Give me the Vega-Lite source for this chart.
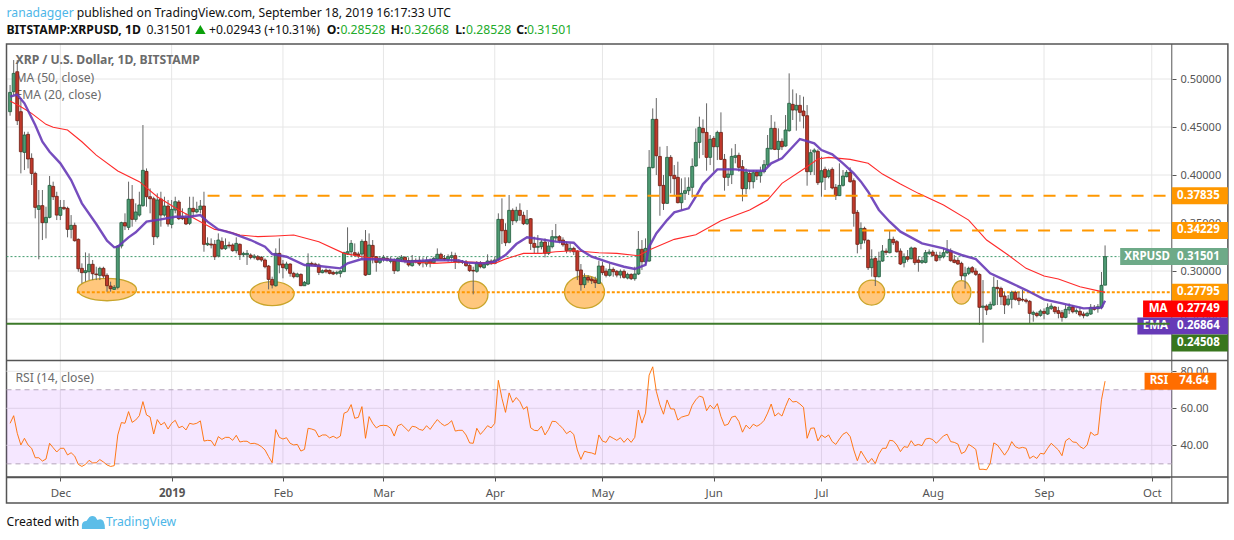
{"$schema":"https://vega.github.io/schema/vega-lite/v6.json","width":1234,"height":540,"padding":0,"autosize":{"type":"none"},"background":"#ffffff","config":{"view":{"stroke":null},"text":{"font":"Noto Sans"},"axis":{"labelFont":"Noto Sans"}},
"datasets":{
"candles":[
{"d":"2018-11-17","o":0.466,"h":0.4938,"l":0.4618,"c":0.4861,"r":51.9},
{"d":"2018-11-18","o":0.4868,"h":0.5198,"l":0.4833,"c":0.5059,"r":56.0},
{"d":"2018-11-19","o":0.5076,"h":0.5198,"l":0.4521,"c":0.4566,"r":46.5},
{"d":"2018-11-20","o":0.466,"h":0.4781,"l":0.4017,"c":0.4243,"r":40.2},
{"d":"2018-11-21","o":0.4236,"h":0.4451,"l":0.4052,"c":0.4417,"r":43.8},
{"d":"2018-11-22","o":0.4424,"h":0.4451,"l":0.4069,"c":0.4167,"r":40.2},
{"d":"2018-11-23","o":0.4174,"h":0.4226,"l":0.3896,"c":0.4017,"r":38.4},
{"d":"2018-11-24","o":0.4017,"h":0.4035,"l":0.3549,"c":0.3663,"r":33.3},
{"d":"2018-11-25","o":0.3642,"h":0.3844,"l":0.3122,"c":0.3681,"r":33.3},
{"d":"2018-11-26","o":0.3681,"h":0.3844,"l":0.3323,"c":0.3504,"r":31.5},
{"d":"2018-11-27","o":0.3504,"h":0.367,"l":0.334,"c":0.3559,"r":32.6},
{"d":"2018-11-28","o":0.3559,"h":0.399,"l":0.3549,"c":0.3892,"r":41.1},
{"d":"2018-11-29","o":0.3882,"h":0.3931,"l":0.374,"c":0.3774,"r":38.7},
{"d":"2018-11-30","o":0.3778,"h":0.3826,"l":0.3531,"c":0.3583,"r":36.4},
{"d":"2018-12-01","o":0.358,"h":0.374,"l":0.3531,"c":0.3663,"r":38.4},
{"d":"2018-12-02","o":0.3663,"h":0.374,"l":0.3635,"c":0.3649,"r":38.4},
{"d":"2018-12-03","o":0.3653,"h":0.367,"l":0.3351,"c":0.3434,"r":34.8},
{"d":"2018-12-04","o":0.3434,"h":0.3583,"l":0.334,"c":0.3476,"r":36.0},
{"d":"2018-12-05","o":0.3476,"h":0.3504,"l":0.3306,"c":0.3316,"r":34.2},
{"d":"2018-12-06","o":0.333,"h":0.334,"l":0.2993,"c":0.3024,"r":29.7},
{"d":"2018-12-07","o":0.3028,"h":0.308,"l":0.2872,"c":0.2983,"r":28.6},
{"d":"2018-12-08","o":0.2983,"h":0.3194,"l":0.2889,"c":0.3003,"r":29.7},
{"d":"2018-12-09","o":0.2993,"h":0.3184,"l":0.2906,"c":0.307,"r":31.9},
{"d":"2018-12-10","o":0.307,"h":0.3115,"l":0.2906,"c":0.2972,"r":30.5},
{"d":"2018-12-11","o":0.2969,"h":0.3045,"l":0.2906,"c":0.2962,"r":30.6},
{"d":"2018-12-12","o":0.2955,"h":0.3045,"l":0.2906,"c":0.3028,"r":32.3},
{"d":"2018-12-13","o":0.3028,"h":0.3045,"l":0.2924,"c":0.2948,"r":31.0},
{"d":"2018-12-14","o":0.2955,"h":0.2976,"l":0.2785,"c":0.2847,"r":29.4},
{"d":"2018-12-15","o":0.2844,"h":0.2889,"l":0.2785,"c":0.2816,"r":28.6},
{"d":"2018-12-16","o":0.2809,"h":0.2854,"l":0.2802,"c":0.283,"r":29.0},
{"d":"2018-12-17","o":0.283,"h":0.3271,"l":0.2809,"c":0.3261,"r":45.6},
{"d":"2018-12-18","o":0.3261,"h":0.3514,"l":0.3236,"c":0.3504,"r":52.3},
{"d":"2018-12-19","o":0.3504,"h":0.3601,"l":0.3427,"c":0.3469,"r":51.9},
{"d":"2018-12-20","o":0.3455,"h":0.3931,"l":0.3427,"c":0.3747,"r":58.2},
{"d":"2018-12-21","o":0.3747,"h":0.3896,"l":0.3462,"c":0.3538,"r":52.4},
{"d":"2018-12-22","o":0.3538,"h":0.3705,"l":0.3514,"c":0.3615,"r":53.7},
{"d":"2018-12-23","o":0.3583,"h":0.3826,"l":0.3566,"c":0.3688,"r":56.0},
{"d":"2018-12-24","o":0.3681,"h":0.4521,"l":0.367,"c":0.4049,"r":63.6},
{"d":"2018-12-25","o":0.4038,"h":0.4069,"l":0.367,"c":0.3774,"r":56.4},
{"d":"2018-12-26","o":0.3774,"h":0.3861,"l":0.3601,"c":0.3753,"r":55.3},
{"d":"2018-12-27","o":0.3753,"h":0.3774,"l":0.3271,"c":0.3358,"r":46.1},
{"d":"2018-12-28","o":0.3358,"h":0.3809,"l":0.334,"c":0.374,"r":53.9},
{"d":"2018-12-29","o":0.375,"h":0.3826,"l":0.3462,"c":0.3583,"r":51.0},
{"d":"2018-12-30","o":0.3583,"h":0.3774,"l":0.3566,"c":0.3677,"r":52.4},
{"d":"2018-12-31","o":0.3677,"h":0.374,"l":0.3462,"c":0.349,"r":48.8},
{"d":"2019-01-01","o":0.3486,"h":0.374,"l":0.3445,"c":0.3642,"r":51.9},
{"d":"2019-01-02","o":0.3635,"h":0.3774,"l":0.3601,"c":0.3722,"r":53.5},
{"d":"2019-01-03","o":0.3719,"h":0.374,"l":0.3531,"c":0.3545,"r":49.5},
{"d":"2019-01-04","o":0.3566,"h":0.3653,"l":0.3531,"c":0.3545,"r":50.3},
{"d":"2019-01-05","o":0.3556,"h":0.3601,"l":0.3479,"c":0.349,"r":48.3},
{"d":"2019-01-06","o":0.3497,"h":0.3774,"l":0.3479,"c":0.3653,"r":51.9},
{"d":"2019-01-07","o":0.3653,"h":0.3774,"l":0.3566,"c":0.3618,"r":51.4},
{"d":"2019-01-08","o":0.3615,"h":0.3722,"l":0.3601,"c":0.3642,"r":51.9},
{"d":"2019-01-09","o":0.3642,"h":0.374,"l":0.3601,"c":0.3677,"r":53.2},
{"d":"2019-01-10","o":0.3677,"h":0.3826,"l":0.3201,"c":0.3278,"r":42.3},
{"d":"2019-01-11","o":0.3274,"h":0.3351,"l":0.3261,"c":0.3288,"r":42.7},
{"d":"2019-01-12","o":0.3281,"h":0.334,"l":0.3236,"c":0.3271,"r":42.5},
{"d":"2019-01-13","o":0.3278,"h":0.3323,"l":0.3115,"c":0.3149,"r":39.6},
{"d":"2019-01-14","o":0.3156,"h":0.3392,"l":0.3142,"c":0.3323,"r":44.7},
{"d":"2019-01-15","o":0.3309,"h":0.3351,"l":0.3219,"c":0.3233,"r":43.2},
{"d":"2019-01-16","o":0.3233,"h":0.334,"l":0.3219,"c":0.3264,"r":44.3},
{"d":"2019-01-17","o":0.3271,"h":0.3306,"l":0.3236,"c":0.3261,"r":44.3},
{"d":"2019-01-18","o":0.3271,"h":0.3288,"l":0.3201,"c":0.3212,"r":42.7},
{"d":"2019-01-19","o":0.3212,"h":0.3351,"l":0.3184,"c":0.3288,"r":45.4},
{"d":"2019-01-20","o":0.3278,"h":0.3288,"l":0.3115,"c":0.317,"r":41.8},
{"d":"2019-01-21","o":0.317,"h":0.3201,"l":0.3149,"c":0.3184,"r":42.2},
{"d":"2019-01-22","o":0.317,"h":0.3219,"l":0.3063,"c":0.3184,"r":42.2},
{"d":"2019-01-23","o":0.3167,"h":0.3184,"l":0.3122,"c":0.3142,"r":40.9},
{"d":"2019-01-24","o":0.3142,"h":0.3177,"l":0.3122,"c":0.3156,"r":41.1},
{"d":"2019-01-25","o":0.3149,"h":0.3167,"l":0.3108,"c":0.3122,"r":40.5},
{"d":"2019-01-26","o":0.3142,"h":0.3156,"l":0.3097,"c":0.3115,"r":39.3},
{"d":"2019-01-27","o":0.3115,"h":0.3132,"l":0.3028,"c":0.3045,"r":37.5},
{"d":"2019-01-28","o":0.3052,"h":0.3063,"l":0.2809,"c":0.2913,"r":33.9},
{"d":"2019-01-29","o":0.2913,"h":0.2941,"l":0.2819,"c":0.2854,"r":30.6},
{"d":"2019-01-30","o":0.2847,"h":0.3236,"l":0.2837,"c":0.3184,"r":48.5},
{"d":"2019-01-31","o":0.3184,"h":0.334,"l":0.2976,"c":0.3063,"r":44.3},
{"d":"2019-02-01","o":0.3073,"h":0.3115,"l":0.2924,"c":0.3035,"r":43.4},
{"d":"2019-02-02","o":0.3024,"h":0.3097,"l":0.3003,"c":0.3073,"r":44.1},
{"d":"2019-02-03","o":0.3073,"h":0.308,"l":0.2941,"c":0.2976,"r":41.1},
{"d":"2019-02-04","o":0.2976,"h":0.2993,"l":0.2924,"c":0.2941,"r":40.2},
{"d":"2019-02-05","o":0.2941,"h":0.2983,"l":0.2934,"c":0.2969,"r":40.5},
{"d":"2019-02-06","o":0.2965,"h":0.2976,"l":0.2844,"c":0.2847,"r":36.9},
{"d":"2019-02-07","o":0.2847,"h":0.2896,"l":0.2844,"c":0.2882,"r":37.8},
{"d":"2019-02-08","o":0.2865,"h":0.3184,"l":0.2854,"c":0.308,"r":49.2},
{"d":"2019-02-09","o":0.308,"h":0.3097,"l":0.3052,"c":0.3069,"r":48.8},
{"d":"2019-02-10","o":0.3073,"h":0.3087,"l":0.3045,"c":0.3063,"r":48.1},
{"d":"2019-02-11","o":0.3063,"h":0.308,"l":0.2958,"c":0.2986,"r":44.5},
{"d":"2019-02-12","o":0.2983,"h":0.3017,"l":0.2976,"c":0.3003,"r":45.6},
{"d":"2019-02-13","o":0.301,"h":0.3028,"l":0.2976,"c":0.2993,"r":45.6},
{"d":"2019-02-14","o":0.3007,"h":0.3017,"l":0.2965,"c":0.2976,"r":44.0},
{"d":"2019-02-15","o":0.2986,"h":0.3003,"l":0.2958,"c":0.2969,"r":44.9},
{"d":"2019-02-16","o":0.2976,"h":0.3003,"l":0.2958,"c":0.2986,"r":43.8},
{"d":"2019-02-17","o":0.2976,"h":0.301,"l":0.2934,"c":0.3,"r":45.0},
{"d":"2019-02-18","o":0.2993,"h":0.3201,"l":0.299,"c":0.3191,"r":57.3},
{"d":"2019-02-19","o":0.3177,"h":0.3455,"l":0.3167,"c":0.3201,"r":58.2},
{"d":"2019-02-20","o":0.3201,"h":0.3323,"l":0.3149,"c":0.3288,"r":62.0},
{"d":"2019-02-21","o":0.3191,"h":0.3288,"l":0.3149,"c":0.3167,"r":54.6},
{"d":"2019-02-22","o":0.3177,"h":0.3201,"l":0.3132,"c":0.3156,"r":55.1},
{"d":"2019-02-23","o":0.3177,"h":0.333,"l":0.3115,"c":0.3309,"r":60.9},
{"d":"2019-02-24","o":0.3309,"h":0.3427,"l":0.2948,"c":0.2958,"r":43.8},
{"d":"2019-02-25","o":0.2965,"h":0.3392,"l":0.2958,"c":0.3271,"r":55.5},
{"d":"2019-02-26","o":0.3267,"h":0.3323,"l":0.308,"c":0.3149,"r":51.9},
{"d":"2019-02-27","o":0.3149,"h":0.3156,"l":0.2993,"c":0.309,"r":49.4},
{"d":"2019-02-28","o":0.309,"h":0.3156,"l":0.3073,"c":0.3132,"r":50.6},
{"d":"2019-03-01","o":0.3122,"h":0.3167,"l":0.3097,"c":0.3142,"r":50.8},
{"d":"2019-03-02","o":0.3132,"h":0.3156,"l":0.3097,"c":0.3115,"r":50.6},
{"d":"2019-03-03","o":0.3101,"h":0.3149,"l":0.308,"c":0.3122,"r":49.2},
{"d":"2019-03-04","o":0.3104,"h":0.3132,"l":0.2969,"c":0.3003,"r":45.0},
{"d":"2019-03-05","o":0.3003,"h":0.3149,"l":0.2993,"c":0.3132,"r":50.6},
{"d":"2019-03-06","o":0.3122,"h":0.3167,"l":0.3097,"c":0.3142,"r":51.4},
{"d":"2019-03-07","o":0.3142,"h":0.3156,"l":0.308,"c":0.3108,"r":49.5},
{"d":"2019-03-08","o":0.3108,"h":0.3142,"l":0.3045,"c":0.3063,"r":47.6},
{"d":"2019-03-09","o":0.3056,"h":0.3167,"l":0.3045,"c":0.3111,"r":50.3},
{"d":"2019-03-10","o":0.3111,"h":0.3132,"l":0.308,"c":0.3101,"r":49.9},
{"d":"2019-03-11","o":0.3111,"h":0.3149,"l":0.3052,"c":0.3073,"r":48.6},
{"d":"2019-03-12","o":0.3094,"h":0.3142,"l":0.3038,"c":0.3104,"r":48.1},
{"d":"2019-03-13","o":0.3073,"h":0.3149,"l":0.3045,"c":0.3111,"r":50.6},
{"d":"2019-03-14","o":0.3111,"h":0.3132,"l":0.3038,"c":0.3083,"r":48.6},
{"d":"2019-03-15","o":0.3087,"h":0.3149,"l":0.3073,"c":0.3132,"r":51.4},
{"d":"2019-03-16","o":0.3125,"h":0.3236,"l":0.3115,"c":0.3174,"r":53.9},
{"d":"2019-03-17","o":0.3174,"h":0.3191,"l":0.3122,"c":0.3128,"r":51.9},
{"d":"2019-03-18","o":0.3132,"h":0.3167,"l":0.3108,"c":0.3122,"r":50.6},
{"d":"2019-03-19","o":0.3122,"h":0.3174,"l":0.3097,"c":0.3149,"r":51.5},
{"d":"2019-03-20","o":0.3142,"h":0.3201,"l":0.3097,"c":0.316,"r":53.3},
{"d":"2019-03-21","o":0.316,"h":0.3191,"l":0.3021,"c":0.3094,"r":47.7},
{"d":"2019-03-22","o":0.309,"h":0.3122,"l":0.308,"c":0.3101,"r":48.1},
{"d":"2019-03-23","o":0.3101,"h":0.3115,"l":0.3073,"c":0.309,"r":48.1},
{"d":"2019-03-24","o":0.3094,"h":0.3115,"l":0.3045,"c":0.3056,"r":45.6},
{"d":"2019-03-25","o":0.3059,"h":0.308,"l":0.299,"c":0.3004,"r":41.3},
{"d":"2019-03-26","o":0.3007,"h":0.3045,"l":0.2757,"c":0.3,"r":41.1},
{"d":"2019-03-27","o":0.2997,"h":0.3104,"l":0.2982,"c":0.308,"r":49.2},
{"d":"2019-03-28","o":0.308,"h":0.3104,"l":0.3028,"c":0.3045,"r":45.9},
{"d":"2019-03-29","o":0.3035,"h":0.3094,"l":0.3024,"c":0.307,"r":48.1},
{"d":"2019-03-30","o":0.3066,"h":0.3174,"l":0.3056,"c":0.3104,"r":50.6},
{"d":"2019-03-31","o":0.3104,"h":0.3122,"l":0.3066,"c":0.3076,"r":49.4},
{"d":"2019-04-01","o":0.308,"h":0.3149,"l":0.307,"c":0.3115,"r":51.9},
{"d":"2019-04-02","o":0.3115,"h":0.3601,"l":0.3108,"c":0.3538,"r":75.1},
{"d":"2019-04-03","o":0.3538,"h":0.3757,"l":0.3281,"c":0.342,"r":65.4},
{"d":"2019-04-04","o":0.3424,"h":0.3497,"l":0.326,"c":0.3295,"r":57.8},
{"d":"2019-04-05","o":0.3299,"h":0.3792,"l":0.3288,"c":0.3632,"r":68.3},
{"d":"2019-04-06","o":0.3632,"h":0.3653,"l":0.3479,"c":0.3524,"r":63.2},
{"d":"2019-04-07","o":0.3524,"h":0.367,"l":0.3504,"c":0.3632,"r":65.8},
{"d":"2019-04-08","o":0.3632,"h":0.3705,"l":0.3524,"c":0.358,"r":63.6},
{"d":"2019-04-09","o":0.358,"h":0.3618,"l":0.3479,"c":0.3493,"r":59.5},
{"d":"2019-04-10","o":0.3493,"h":0.3636,"l":0.3479,"c":0.3538,"r":60.9},
{"d":"2019-04-11","o":0.3545,"h":0.3552,"l":0.3219,"c":0.3288,"r":49.5},
{"d":"2019-04-12","o":0.3288,"h":0.3358,"l":0.3184,"c":0.3247,"r":48.1},
{"d":"2019-04-13","o":0.3247,"h":0.3375,"l":0.3177,"c":0.3257,"r":47.9},
{"d":"2019-04-14","o":0.3254,"h":0.3323,"l":0.3226,"c":0.3302,"r":50.3},
{"d":"2019-04-15","o":0.3302,"h":0.334,"l":0.3142,"c":0.3184,"r":45.6},
{"d":"2019-04-16","o":0.3184,"h":0.3306,"l":0.3167,"c":0.326,"r":48.6},
{"d":"2019-04-17","o":0.3254,"h":0.3427,"l":0.3236,"c":0.3358,"r":53.0},
{"d":"2019-04-18","o":0.3344,"h":0.349,"l":0.3306,"c":0.3358,"r":52.8},
{"d":"2019-04-19","o":0.3358,"h":0.3375,"l":0.3288,"c":0.3316,"r":51.0},
{"d":"2019-04-20","o":0.3323,"h":0.3351,"l":0.3254,"c":0.3274,"r":49.0},
{"d":"2019-04-21","o":0.3281,"h":0.3306,"l":0.3184,"c":0.3212,"r":46.3},
{"d":"2019-04-22","o":0.3212,"h":0.3288,"l":0.3191,"c":0.3236,"r":47.7},
{"d":"2019-04-23","o":0.3236,"h":0.3254,"l":0.3167,"c":0.3201,"r":45.9},
{"d":"2019-04-24","o":0.3208,"h":0.3219,"l":0.2906,"c":0.3004,"r":37.5},
{"d":"2019-04-25","o":0.3011,"h":0.3073,"l":0.2795,"c":0.2858,"r":32.4},
{"d":"2019-04-26","o":0.2858,"h":0.2976,"l":0.2823,"c":0.2934,"r":36.8},
{"d":"2019-04-27","o":0.2934,"h":0.2958,"l":0.2878,"c":0.2906,"r":36.2},
{"d":"2019-04-28","o":0.2916,"h":0.2941,"l":0.2865,"c":0.2899,"r":35.9},
{"d":"2019-04-29","o":0.2906,"h":0.2941,"l":0.2823,"c":0.2878,"r":35.1},
{"d":"2019-04-30","o":0.2871,"h":0.3108,"l":0.2865,"c":0.3052,"r":45.6},
{"d":"2019-05-01","o":0.3052,"h":0.3097,"l":0.2958,"c":0.2983,"r":42.3},
{"d":"2019-05-02","o":0.2999,"h":0.3028,"l":0.2934,"c":0.2955,"r":41.6},
{"d":"2019-05-03","o":0.2955,"h":0.308,"l":0.2941,"c":0.3017,"r":44.9},
{"d":"2019-05-04","o":0.3017,"h":0.3038,"l":0.2941,"c":0.2993,"r":43.8},
{"d":"2019-05-05","o":0.2997,"h":0.3011,"l":0.2934,"c":0.2958,"r":42.7},
{"d":"2019-05-06","o":0.2958,"h":0.3017,"l":0.2924,"c":0.2997,"r":44.1},
{"d":"2019-05-07","o":0.2997,"h":0.3017,"l":0.292,"c":0.2934,"r":41.6},
{"d":"2019-05-08","o":0.2927,"h":0.2983,"l":0.2913,"c":0.2965,"r":43.8},
{"d":"2019-05-09","o":0.2965,"h":0.2976,"l":0.2906,"c":0.292,"r":41.6},
{"d":"2019-05-10","o":0.292,"h":0.3045,"l":0.2899,"c":0.2969,"r":44.3},
{"d":"2019-05-11","o":0.2969,"h":0.3417,"l":0.2958,"c":0.3226,"r":59.0},
{"d":"2019-05-12","o":0.3226,"h":0.3323,"l":0.3011,"c":0.3097,"r":52.0},
{"d":"2019-05-13","o":0.3097,"h":0.334,"l":0.3063,"c":0.3236,"r":57.4},
{"d":"2019-05-14","o":0.3104,"h":0.426,"l":0.3097,"c":0.408,"r":77.9},
{"d":"2019-05-15","o":0.4077,"h":0.4694,"l":0.4069,"c":0.458,"r":82.4},
{"d":"2019-05-16","o":0.458,"h":0.4802,"l":0.4,"c":0.4201,"r":69.2},
{"d":"2019-05-17","o":0.4194,"h":0.4295,"l":0.3576,"c":0.3889,"r":61.9},
{"d":"2019-05-18","o":0.3892,"h":0.4,"l":0.3636,"c":0.3705,"r":56.8},
{"d":"2019-05-19","o":0.3705,"h":0.4302,"l":0.3698,"c":0.4184,"r":64.5},
{"d":"2019-05-20","o":0.4184,"h":0.4208,"l":0.3809,"c":0.3993,"r":59.7},
{"d":"2019-05-21","o":0.3997,"h":0.4104,"l":0.3792,"c":0.3962,"r":59.6},
{"d":"2019-05-22","o":0.3976,"h":0.4139,"l":0.3705,"c":0.3712,"r":53.6},
{"d":"2019-05-23","o":0.3712,"h":0.3965,"l":0.3636,"c":0.3809,"r":55.2},
{"d":"2019-05-24","o":0.3809,"h":0.3976,"l":0.374,"c":0.3837,"r":55.8},
{"d":"2019-05-25","o":0.3837,"h":0.3976,"l":0.3792,"c":0.3872,"r":56.3},
{"d":"2019-05-26","o":0.3872,"h":0.4174,"l":0.3767,"c":0.409,"r":61.6},
{"d":"2019-05-27","o":0.4094,"h":0.4486,"l":0.4087,"c":0.434,"r":64.6},
{"d":"2019-05-28","o":0.434,"h":0.4608,"l":0.4174,"c":0.4497,"r":66.6},
{"d":"2019-05-29","o":0.4486,"h":0.458,"l":0.4208,"c":0.4441,"r":65.9},
{"d":"2019-05-30","o":0.4444,"h":0.4747,"l":0.4045,"c":0.4184,"r":58.7},
{"d":"2019-05-31","o":0.4184,"h":0.4417,"l":0.4104,"c":0.4372,"r":61.7},
{"d":"2019-06-01","o":0.4382,"h":0.4406,"l":0.4035,"c":0.4295,"r":59.6},
{"d":"2019-06-02","o":0.4295,"h":0.4462,"l":0.4156,"c":0.4444,"r":62.5},
{"d":"2019-06-03","o":0.4444,"h":0.4653,"l":0.4156,"c":0.4163,"r":55.6},
{"d":"2019-06-04","o":0.4163,"h":0.4219,"l":0.3837,"c":0.3976,"r":50.7},
{"d":"2019-06-05","o":0.3976,"h":0.4069,"l":0.3886,"c":0.401,"r":51.4},
{"d":"2019-06-06","o":0.4003,"h":0.4278,"l":0.3906,"c":0.4194,"r":55.2},
{"d":"2019-06-07","o":0.4184,"h":0.4323,"l":0.4122,"c":0.4201,"r":55.8},
{"d":"2019-06-08","o":0.4205,"h":0.4233,"l":0.4035,"c":0.408,"r":52.9},
{"d":"2019-06-09","o":0.4087,"h":0.4156,"l":0.3726,"c":0.3858,"r":47.1},
{"d":"2019-06-10","o":0.3858,"h":0.4069,"l":0.3799,"c":0.4031,"r":50.9},
{"d":"2019-06-11","o":0.4017,"h":0.4052,"l":0.3851,"c":0.3931,"r":48.9},
{"d":"2019-06-12","o":0.3931,"h":0.4052,"l":0.3861,"c":0.4024,"r":51.4},
{"d":"2019-06-13","o":0.4031,"h":0.4052,"l":0.3948,"c":0.399,"r":50.3},
{"d":"2019-06-14","o":0.3993,"h":0.4087,"l":0.392,"c":0.4035,"r":51.4},
{"d":"2019-06-15","o":0.4035,"h":0.4156,"l":0.4017,"c":0.4108,"r":53.4},
{"d":"2019-06-16","o":0.4104,"h":0.4417,"l":0.4087,"c":0.4278,"r":57.4},
{"d":"2019-06-17","o":0.4271,"h":0.4625,"l":0.4267,"c":0.4486,"r":62.3},
{"d":"2019-06-18","o":0.4486,"h":0.4556,"l":0.426,"c":0.4267,"r":55.8},
{"d":"2019-06-19","o":0.4267,"h":0.4486,"l":0.4156,"c":0.4351,"r":57.4},
{"d":"2019-06-20","o":0.4351,"h":0.4382,"l":0.426,"c":0.4295,"r":55.8},
{"d":"2019-06-21","o":0.4302,"h":0.4625,"l":0.4295,"c":0.4469,"r":61.0},
{"d":"2019-06-22","o":0.4462,"h":0.5059,"l":0.4451,"c":0.4747,"r":65.5},
{"d":"2019-06-23","o":0.4736,"h":0.4892,"l":0.4573,"c":0.4677,"r":63.4},
{"d":"2019-06-24","o":0.4677,"h":0.4851,"l":0.4462,"c":0.4726,"r":63.7},
{"d":"2019-06-25","o":0.4726,"h":0.4833,"l":0.4556,"c":0.4653,"r":62.3},
{"d":"2019-06-26","o":0.4667,"h":0.4816,"l":0.4486,"c":0.4618,"r":60.5},
{"d":"2019-06-27","o":0.4618,"h":0.4729,"l":0.3889,"c":0.4035,"r":43.8},
{"d":"2019-06-28","o":0.4035,"h":0.4267,"l":0.4,"c":0.4233,"r":49.2},
{"d":"2019-06-29","o":0.424,"h":0.4278,"l":0.4,"c":0.426,"r":49.4},
{"d":"2019-06-30","o":0.4247,"h":0.4267,"l":0.3896,"c":0.392,"r":42.4},
{"d":"2019-07-01","o":0.3927,"h":0.4191,"l":0.3774,"c":0.4045,"r":45.6},
{"d":"2019-07-02","o":0.4059,"h":0.4087,"l":0.3844,"c":0.3976,"r":44.2},
{"d":"2019-07-03","o":0.3983,"h":0.4066,"l":0.3965,"c":0.4045,"r":45.6},
{"d":"2019-07-04","o":0.4059,"h":0.408,"l":0.3851,"c":0.3865,"r":42.0},
{"d":"2019-07-05","o":0.3872,"h":0.3906,"l":0.374,"c":0.3785,"r":40.5},
{"d":"2019-07-06","o":0.3785,"h":0.4122,"l":0.3781,"c":0.3892,"r":43.4},
{"d":"2019-07-07","o":0.3892,"h":0.4052,"l":0.3879,"c":0.399,"r":46.0},
{"d":"2019-07-08","o":0.3983,"h":0.4052,"l":0.3976,"c":0.4028,"r":47.1},
{"d":"2019-07-09","o":0.4028,"h":0.408,"l":0.392,"c":0.3931,"r":44.7},
{"d":"2019-07-10","o":0.3941,"h":0.3965,"l":0.3462,"c":0.3601,"r":37.5},
{"d":"2019-07-11","o":0.3611,"h":0.3636,"l":0.3184,"c":0.3278,"r":31.7},
{"d":"2019-07-12","o":0.3288,"h":0.3507,"l":0.3226,"c":0.3444,"r":36.9},
{"d":"2019-07-13","o":0.3444,"h":0.3462,"l":0.3288,"c":0.3323,"r":33.8},
{"d":"2019-07-14","o":0.3319,"h":0.333,"l":0.3011,"c":0.3035,"r":30.6},
{"d":"2019-07-15","o":0.3035,"h":0.3226,"l":0.2941,"c":0.3125,"r":32.9},
{"d":"2019-07-16","o":0.3132,"h":0.3149,"l":0.2844,"c":0.2941,"r":30.2},
{"d":"2019-07-17","o":0.2941,"h":0.3201,"l":0.2934,"c":0.3104,"r":35.3},
{"d":"2019-07-18","o":0.3104,"h":0.3271,"l":0.3097,"c":0.3208,"r":38.4},
{"d":"2019-07-19","o":0.3208,"h":0.3236,"l":0.3167,"c":0.3194,"r":38.4},
{"d":"2019-07-20","o":0.3191,"h":0.3427,"l":0.3184,"c":0.333,"r":42.7},
{"d":"2019-07-21","o":0.333,"h":0.3358,"l":0.3271,"c":0.3295,"r":42.4},
{"d":"2019-07-22","o":0.3306,"h":0.3323,"l":0.3191,"c":0.3201,"r":40.2},
{"d":"2019-07-23","o":0.3208,"h":0.3236,"l":0.3063,"c":0.3073,"r":36.6},
{"d":"2019-07-24","o":0.3087,"h":0.3184,"l":0.3038,"c":0.3149,"r":39.3},
{"d":"2019-07-25","o":0.3149,"h":0.3219,"l":0.3097,"c":0.3122,"r":38.9},
{"d":"2019-07-26","o":0.3128,"h":0.3254,"l":0.3122,"c":0.324,"r":42.5},
{"d":"2019-07-27","o":0.324,"h":0.3247,"l":0.3063,"c":0.3087,"r":39.8},
{"d":"2019-07-28","o":0.3115,"h":0.3156,"l":0.2993,"c":0.309,"r":40.5},
{"d":"2019-07-29","o":0.309,"h":0.3149,"l":0.3073,"c":0.3108,"r":39.8},
{"d":"2019-07-30","o":0.309,"h":0.3219,"l":0.308,"c":0.3191,"r":43.4},
{"d":"2019-07-31","o":0.3184,"h":0.3226,"l":0.3167,"c":0.3198,"r":43.8},
{"d":"2019-08-01","o":0.3198,"h":0.3219,"l":0.3149,"c":0.3163,"r":43.1},
{"d":"2019-08-02","o":0.3167,"h":0.3201,"l":0.3097,"c":0.3108,"r":41.1},
{"d":"2019-08-03","o":0.3139,"h":0.3201,"l":0.3108,"c":0.316,"r":43.1},
{"d":"2019-08-04","o":0.3149,"h":0.3236,"l":0.3132,"c":0.3191,"r":45.1},
{"d":"2019-08-05","o":0.3191,"h":0.3323,"l":0.3177,"c":0.3212,"r":46.0},
{"d":"2019-08-06","o":0.3212,"h":0.3236,"l":0.3097,"c":0.3108,"r":42.0},
{"d":"2019-08-07","o":0.3115,"h":0.3167,"l":0.308,"c":0.309,"r":41.6},
{"d":"2019-08-08","o":0.3111,"h":0.3142,"l":0.3063,"c":0.3073,"r":40.7},
{"d":"2019-08-09","o":0.308,"h":0.3097,"l":0.2906,"c":0.2951,"r":35.5},
{"d":"2019-08-10","o":0.2948,"h":0.3045,"l":0.2816,"c":0.2976,"r":36.6},
{"d":"2019-08-11","o":0.2976,"h":0.3045,"l":0.2958,"c":0.3028,"r":40.5},
{"d":"2019-08-12","o":0.3035,"h":0.3052,"l":0.2976,"c":0.299,"r":39.3},
{"d":"2019-08-13","o":0.3,"h":0.3028,"l":0.2948,"c":0.2965,"r":37.8},
{"d":"2019-08-14","o":0.2965,"h":0.2976,"l":0.2438,"c":0.2622,"r":27.0},
{"d":"2019-08-15","o":0.2622,"h":0.2906,"l":0.2254,"c":0.2635,"r":27.1},
{"d":"2019-08-16","o":0.2635,"h":0.2653,"l":0.2542,"c":0.2594,"r":26.8},
{"d":"2019-08-17","o":0.2604,"h":0.2681,"l":0.2594,"c":0.2653,"r":30.2},
{"d":"2019-08-18","o":0.2646,"h":0.2941,"l":0.2635,"c":0.283,"r":41.3},
{"d":"2019-08-19","o":0.283,"h":0.2906,"l":0.2646,"c":0.2816,"r":40.2},
{"d":"2019-08-20","o":0.2819,"h":0.2837,"l":0.2646,"c":0.2733,"r":37.5},
{"d":"2019-08-21","o":0.274,"h":0.2785,"l":0.2552,"c":0.2646,"r":34.7},
{"d":"2019-08-22","o":0.2653,"h":0.275,"l":0.2635,"c":0.2708,"r":37.5},
{"d":"2019-08-23","o":0.2705,"h":0.2795,"l":0.2611,"c":0.2778,"r":42.0},
{"d":"2019-08-24","o":0.2778,"h":0.2795,"l":0.2691,"c":0.2705,"r":39.3},
{"d":"2019-08-25","o":0.2719,"h":0.2785,"l":0.2646,"c":0.2691,"r":38.4},
{"d":"2019-08-26","o":0.2705,"h":0.2802,"l":0.2681,"c":0.2698,"r":38.9},
{"d":"2019-08-27","o":0.2698,"h":0.2715,"l":0.2663,"c":0.2684,"r":38.4},
{"d":"2019-08-28","o":0.2684,"h":0.2698,"l":0.2455,"c":0.2559,"r":32.9},
{"d":"2019-08-29","o":0.2549,"h":0.2587,"l":0.2472,"c":0.2569,"r":34.2},
{"d":"2019-08-30","o":0.2559,"h":0.2576,"l":0.2517,"c":0.2535,"r":32.9},
{"d":"2019-08-31","o":0.2538,"h":0.2601,"l":0.2524,"c":0.2583,"r":35.7},
{"d":"2019-09-01","o":0.258,"h":0.2611,"l":0.2497,"c":0.2559,"r":35.3},
{"d":"2019-09-02","o":0.2552,"h":0.2663,"l":0.2542,"c":0.2618,"r":38.4},
{"d":"2019-09-03","o":0.2611,"h":0.2663,"l":0.2594,"c":0.2635,"r":41.1},
{"d":"2019-09-04","o":0.2625,"h":0.2635,"l":0.2552,"c":0.2576,"r":39.3},
{"d":"2019-09-05","o":0.2587,"h":0.2628,"l":0.2507,"c":0.2559,"r":37.5},
{"d":"2019-09-06","o":0.2566,"h":0.2594,"l":0.2472,"c":0.2517,"r":34.4},
{"d":"2019-09-07","o":0.2517,"h":0.2646,"l":0.2507,"c":0.2601,"r":42.4},
{"d":"2019-09-08","o":0.2594,"h":0.2663,"l":0.2552,"c":0.2625,"r":43.8},
{"d":"2019-09-09","o":0.2625,"h":0.2646,"l":0.2559,"c":0.2576,"r":41.8},
{"d":"2019-09-10","o":0.2576,"h":0.2611,"l":0.2552,"c":0.2587,"r":41.6},
{"d":"2019-09-11","o":0.258,"h":0.2628,"l":0.2524,"c":0.2542,"r":39.3},
{"d":"2019-09-12","o":0.2552,"h":0.2576,"l":0.2507,"c":0.2535,"r":38.2},
{"d":"2019-09-13","o":0.2535,"h":0.2576,"l":0.2524,"c":0.2559,"r":40.2},
{"d":"2019-09-14","o":0.2552,"h":0.2656,"l":0.2542,"c":0.2622,"r":47.1},
{"d":"2019-09-15","o":0.2622,"h":0.2646,"l":0.2587,"c":0.2601,"r":45.4},
{"d":"2019-09-16","o":0.2607,"h":0.2656,"l":0.2566,"c":0.2628,"r":46.0},
{"d":"2019-09-17","o":0.2622,"h":0.299,"l":0.2601,"c":0.2851,"r":64.6},
{"d":"2019-09-18","o":0.28528,"h":0.32668,"l":0.28528,"c":0.31501,"r":74.64}
],
"ma":[
{"d":"2018-11-17","y":0.4771},{"d":"2018-11-20","y":0.4712},{"d":"2018-11-23","y":0.4642},{"d":"2018-11-27","y":0.4528},{"d":"2018-11-29","y":0.4497},{"d":"2018-12-03","y":0.4469},{"d":"2018-12-07","y":0.4347},{"d":"2018-12-11","y":0.4208},{"d":"2018-12-17","y":0.4042},{"d":"2018-12-23","y":0.3931},{"d":"2018-12-28","y":0.3774},{"d":"2019-01-03","y":0.3635},{"d":"2019-01-09","y":0.3514},{"d":"2019-01-13","y":0.3434},{"d":"2019-01-16","y":0.342},{"d":"2019-01-20","y":0.3375},{"d":"2019-01-25","y":0.3358},{"d":"2019-01-30","y":0.3365},{"d":"2019-02-04","y":0.3375},{"d":"2019-02-11","y":0.3306},{"d":"2019-02-18","y":0.3184},{"d":"2019-02-23","y":0.3149},{"d":"2019-02-27","y":0.3132},{"d":"2019-03-08","y":0.3097},{"d":"2019-03-15","y":0.308},{"d":"2019-03-24","y":0.3097},{"d":"2019-04-01","y":0.308},{"d":"2019-04-04","y":0.3125},{"d":"2019-04-09","y":0.3184},{"d":"2019-04-14","y":0.3184},{"d":"2019-04-18","y":0.3201},{"d":"2019-04-23","y":0.3212},{"d":"2019-04-30","y":0.3191},{"d":"2019-05-05","y":0.3184},{"d":"2019-05-11","y":0.316},{"d":"2019-05-14","y":0.3219},{"d":"2019-05-21","y":0.333},{"d":"2019-05-27","y":0.3378},{"d":"2019-06-03","y":0.3524},{"d":"2019-06-11","y":0.3636},{"d":"2019-06-16","y":0.374},{"d":"2019-06-20","y":0.3913},{"d":"2019-06-27","y":0.4087},{"d":"2019-06-30","y":0.4167},{"d":"2019-07-03","y":0.4184},{"d":"2019-07-09","y":0.4163},{"d":"2019-07-14","y":0.4122},{"d":"2019-07-18","y":0.401},{"d":"2019-07-23","y":0.3906},{"d":"2019-07-28","y":0.3809},{"d":"2019-08-04","y":0.3688},{"d":"2019-08-11","y":0.3531},{"d":"2019-08-16","y":0.3323},{"d":"2019-08-22","y":0.3167},{"d":"2019-08-27","y":0.3028},{"d":"2019-09-01","y":0.2948},{"d":"2019-09-05","y":0.2917},{"d":"2019-09-11","y":0.2837},{"d":"2019-09-18","y":0.2778}
],
"ema":[
{"d":"2018-11-17","y":0.4816},{"d":"2018-11-19","y":0.4837},{"d":"2018-11-21","y":0.4747},{"d":"2018-11-24","y":0.4521},{"d":"2018-11-26","y":0.4347},{"d":"2018-11-28","y":0.4243},{"d":"2018-12-01","y":0.4122},{"d":"2018-12-04","y":0.3948},{"d":"2018-12-07","y":0.3705},{"d":"2018-12-11","y":0.349},{"d":"2018-12-14","y":0.3316},{"d":"2018-12-16","y":0.3247},{"d":"2018-12-17","y":0.3254},{"d":"2018-12-20","y":0.3351},{"d":"2018-12-22","y":0.3403},{"d":"2018-12-25","y":0.3514},{"d":"2018-12-29","y":0.3538},{"d":"2019-01-02","y":0.3566},{"d":"2019-01-06","y":0.3566},{"d":"2019-01-09","y":0.3583},{"d":"2019-01-11","y":0.3514},{"d":"2019-01-14","y":0.3434},{"d":"2019-01-18","y":0.3392},{"d":"2019-01-23","y":0.3323},{"d":"2019-01-27","y":0.3254},{"d":"2019-01-29","y":0.3177},{"d":"2019-02-02","y":0.3149},{"d":"2019-02-07","y":0.3063},{"d":"2019-02-11","y":0.3052},{"d":"2019-02-17","y":0.3028},{"d":"2019-02-19","y":0.308},{"d":"2019-02-23","y":0.3125},{"d":"2019-02-27","y":0.3122},{"d":"2019-03-04","y":0.3115},{"d":"2019-03-08","y":0.3097},{"d":"2019-03-15","y":0.3115},{"d":"2019-03-22","y":0.3111},{"d":"2019-03-24","y":0.3087},{"d":"2019-03-29","y":0.308},{"d":"2019-04-01","y":0.3097},{"d":"2019-04-04","y":0.3167},{"d":"2019-04-07","y":0.3281},{"d":"2019-04-10","y":0.3351},{"d":"2019-04-14","y":0.333},{"d":"2019-04-18","y":0.3306},{"d":"2019-04-23","y":0.3295},{"d":"2019-04-25","y":0.3219},{"d":"2019-04-28","y":0.3149},{"d":"2019-05-03","y":0.3087},{"d":"2019-05-07","y":0.3045},{"d":"2019-05-10","y":0.3021},{"d":"2019-05-13","y":0.3063},{"d":"2019-05-14","y":0.3254},{"d":"2019-05-16","y":0.3392},{"d":"2019-05-19","y":0.3531},{"d":"2019-05-21","y":0.3611},{"d":"2019-05-25","y":0.3653},{"d":"2019-05-27","y":0.3774},{"d":"2019-05-29","y":0.3906},{"d":"2019-06-02","y":0.4059},{"d":"2019-06-07","y":0.4059},{"d":"2019-06-11","y":0.4045},{"d":"2019-06-15","y":0.4045},{"d":"2019-06-17","y":0.4122},{"d":"2019-06-20","y":0.4174},{"d":"2019-06-23","y":0.4295},{"d":"2019-06-25","y":0.4375},{"d":"2019-06-27","y":0.4354},{"d":"2019-06-29","y":0.433},{"d":"2019-07-01","y":0.426},{"d":"2019-07-04","y":0.4215},{"d":"2019-07-07","y":0.4122},{"d":"2019-07-10","y":0.4017},{"d":"2019-07-12","y":0.3931},{"d":"2019-07-14","y":0.3826},{"d":"2019-07-17","y":0.3636},{"d":"2019-07-20","y":0.3514},{"d":"2019-07-23","y":0.341},{"d":"2019-07-29","y":0.3288},{"d":"2019-08-04","y":0.3236},{"d":"2019-08-09","y":0.3167},{"d":"2019-08-13","y":0.3125},{"d":"2019-08-17","y":0.2976},{"d":"2019-08-22","y":0.2889},{"d":"2019-08-27","y":0.2802},{"d":"2019-09-01","y":0.2705},{"d":"2019-09-06","y":0.2663},{"d":"2019-09-12","y":0.2611},{"d":"2019-09-17","y":0.2618},{"d":"2019-09-18","y":0.2691}
],
"pgrid":[{"d":"2018-11-16","b":"2019-10-06T14:00:00Z","y":0.25},{"d":"2018-11-16","b":"2019-10-06T14:00:00Z","y":0.3},{"d":"2018-11-16","b":"2019-10-06T14:00:00Z","y":0.35},{"d":"2018-11-16","b":"2019-10-06T14:00:00Z","y":0.4},{"d":"2018-11-16","b":"2019-10-06T14:00:00Z","y":0.45},{"d":"2018-11-16","b":"2019-10-06T14:00:00Z","y":0.5}],
"months":[{"d":"2018-12-01","y":0.5365,"y2":0.0854},{"d":"2019-01-01","y":0.5365,"y2":0.0854},{"d":"2019-02-01","y":0.5365,"y2":0.0854},{"d":"2019-03-01","y":0.5365,"y2":0.0854},{"d":"2019-04-01","y":0.5365,"y2":0.0854},{"d":"2019-05-01","y":0.5365,"y2":0.0854},{"d":"2019-06-01","y":0.5365,"y2":0.0854},{"d":"2019-07-01","y":0.5365,"y2":0.0854},{"d":"2019-08-01","y":0.5365,"y2":0.0854},{"d":"2019-09-01","y":0.5365,"y2":0.0854},{"d":"2019-10-01","y":0.5365,"y2":0.0854}],
"notes":[{"d":"2018-11-18T12:00:00Z","y":0.5198,"t":"XRP / U.S. Dollar, 1D, BITSTAMP","w":"b"},{"d":"2018-11-18T12:00:00Z","y":0.501,"t":"MA (50, close)"},{"d":"2018-11-18T12:00:00Z","y":0.4833,"t":"EMA (20, close)"}],
"zones":[{"id":"a","d":"2018-12-14","y":0.2807},{"id":"b","d":"2019-01-29","y":0.2764},{"id":"c","d":"2019-03-26","y":0.2752},{"id":"e","d":"2019-04-26","y":0.2781},{"id":"f","d":"2019-07-15","y":0.2776},{"id":"g","d":"2019-08-09","y":0.2778}],
"res":[{"d":"2019-01-11","b":"2019-10-05T12:00:00Z","y":0.37835},{"d":"2019-05-30T10:00:00Z","b":"2019-10-03T07:00:00Z","y":0.34229}],
"sup":[{"d":"2018-12-05T14:00:00Z","b":"2019-10-06","y":0.27795}],
"last":[{"d":"2018-11-16","b":"2019-09-22","y":0.31501}],
"floor":[{"d":"2018-11-16","b":"2019-10-06","y":0.24508}],
"tags":[{"s":"res","d":"2019-10-06T14:00:00Z","b":"2019-10-22T05:00:00Z","y":0.37835},{"s":"res","d":"2019-10-06T14:00:00Z","b":"2019-10-22T05:00:00Z","y":0.34229},{"s":"last","d":"2019-09-22T05:00:00Z","b":"2019-10-22T05:00:00Z","y":0.31501},{"s":"res","d":"2019-10-06T14:00:00Z","b":"2019-10-22T05:00:00Z","y":0.27795},{"s":"ma","d":"2019-09-28T14:00:00Z","b":"2019-10-22T05:00:00Z","y":0.2604},{"s":"ema","d":"2019-09-27","b":"2019-10-22T05:00:00Z","y":0.2427},{"s":"sup","d":"2019-10-06T14:00:00Z","b":"2019-10-22T05:00:00Z","y":0.225}],
"tagText":[{"d":"2019-10-14","y":0.37835,"t":"0.37835"},{"d":"2019-10-14","y":0.34229,"t":"0.34229"},{"d":"2019-10-14","y":0.31501,"t":"0.31501"},{"d":"2019-09-29T17:00:00Z","y":0.31501,"t":"XRPUSD"},{"d":"2019-10-14","y":0.27795,"t":"0.27795"},{"d":"2019-10-14","y":0.2604,"t":"0.27749"},{"d":"2019-10-02T19:00:00Z","y":0.2604,"t":"MA"},{"d":"2019-10-14","y":0.2427,"t":"0.26864"},{"d":"2019-10-02","y":0.2427,"t":"EMA"},{"d":"2019-10-14","y":0.225,"t":"0.24508"}],
"frame":[{"d":"2018-11-16","b":"2019-10-22T05:00:00Z","y":0.5365,"y2":0.0583}],
"hdiv":[{"d":"2018-11-16","b":"2019-10-22T05:00:00Z","y":0.2068},{"d":"2018-11-16","b":"2019-10-22T05:00:00Z","y":0.0854}],
"vdiv":[{"d":"2019-10-06T14:00:00Z","y":0.5365,"y2":0.0583}],
"head":[{"s":"brand","d":"2018-11-16","y":0.5693,"t":"ranadagger"},{"s":"text","d":"2018-12-05T14:00:00Z","y":0.5693,"t":"published on TradingView.com, September 18, 2019 16:17:33 UTC"},{"s":"text","d":"2018-12-25","y":0.5516,"t":"0.31501"},{"s":"text","d":"2019-01-11T10:00:00Z","y":0.5516,"t":"+0.02943 (+10.31%)"},{"s":"up","d":"2019-02-17","y":0.5516,"t":"0.28528"},{"s":"up","d":"2019-03-06T17:00:00Z","y":0.5516,"t":"0.32668"},{"s":"up","d":"2019-03-24","y":0.5516,"t":"0.28528"},{"s":"up","d":"2019-04-10","y":0.5516,"t":"0.31501"},{"s":"text","d":"2018-11-16","y":0.0385,"t":"Created with"},{"s":"brand","d":"2018-12-13T17:00:00Z","y":0.0385,"t":"TradingView"}],
"headBold":[{"d":"2018-11-16","y":0.5516,"t":"BITSTAMP:XRPUSD, 1D"},{"d":"2019-02-13T05:00:00Z","y":0.5516,"t":"O:"},{"d":"2019-03-03","y":0.5516,"t":"H:"},{"d":"2019-03-21","y":0.5516,"t":"L:"},{"d":"2019-04-07","y":0.5516,"t":"C:"}],
"tri":[{"d":"2019-01-09","y":0.5516}],
"logo":[{"d":"2018-12-10T05:00:00Z","y":0.0385}],
"band":[{"d":"2018-11-16","b":"2019-10-06T14:00:00Z","y":70,"y2":30}],
"rgrid":[{"d":"2018-11-16","b":"2019-10-06T14:00:00Z","y":40},{"d":"2018-11-16","b":"2019-10-06T14:00:00Z","y":60},{"d":"2018-11-16","b":"2019-10-06T14:00:00Z","y":80}],
"rlim":[{"d":"2018-11-16","b":"2019-10-06T14:00:00Z","y":70},{"d":"2018-11-16","b":"2019-10-06T14:00:00Z","y":30}],
"rnote":[{"d":"2018-11-18T12:00:00Z","y":76.5,"t":"RSI (14, close)"}],
"rtag":[{"d":"2019-09-29","b":"2019-10-19","y":74.64}],
"rtagText":[{"d":"2019-10-03","y":74.64,"t":"RSI"},{"d":"2019-10-12T19:00:00Z","y":74.64,"t":"74.64"}]
},
"encoding":{"x":{"field":"d","type":"temporal","title":null,"scale":{"type":"utc","nice":false,"padding":0,"domain":["2018-11-16","2019-10-06"],"range":[6.5,1169.7]},"axis":{"orient":"bottom","offset":-63,"tickCount":"month","labelExpr":"utcmonth(datum.value)==0?'2019':utcFormat(datum.value,'%b')","labelFontWeight":{"condition":{"test":"utcmonth(datum.value)==0","value":"bold"},"value":"normal"},"labelFontSize":11.5,"labelColor":"#555555","labelPadding":6,"tickSize":4,"tickColor":"#555555","domainColor":"#555555","domainWidth":1.5,"grid":false,"labelOverlap":false,"labelFlush":false,"title":null}}},
"layer":[
{"encoding":{"y":{"field":"y","type":"quantitative","title":null,"scale":{"nice":false,"zero":false,"domain":[0.2068,0.5365],"range":[360.5,44]},"axis":{"orient":"right","offset":-62,"values":[0.25,0.3,0.35,0.4,0.45,0.5],"format":".5f","domain":false,"grid":false,"labelFontSize":11,"labelColor":"#555555","tickColor":"#555555","tickSize":4,"labelPadding":4,"title":null}}},
"layer":[
{"data":{"name":"pgrid"},"mark":{"type":"rule","color":"#e6e6e6","strokeWidth":1},"encoding":{"x2":{"field":"b"}}},
{"data":{"name":"months"},"mark":{"type":"rule","color":"#e6e6e6","strokeWidth":1},"encoding":{"y2":{"field":"y2"}}},
{"data":{"name":"frame"},"mark":{"type":"rect","fill":null,"stroke":"#555555","strokeWidth":1.5},"encoding":{"x2":{"field":"b"},"y2":{"field":"y2"}}},
{"data":{"name":"hdiv"},"mark":{"type":"rule","color":"#555555","strokeWidth":1.5},"encoding":{"x2":{"field":"b"}}},
{"data":{"name":"vdiv"},"mark":{"type":"rule","color":"#555555","strokeWidth":1},"encoding":{"y2":{"field":"y2"}}},
{"data":{"name":"notes"},"transform":[{"filter":"datum.w!='b'"}],"mark":{"type":"text","align":"left","baseline":"middle","fontSize":12.2,"color":"#6b6b6b"},"encoding":{"text":{"field":"t"}}},
{"data":{"name":"notes"},"transform":[{"filter":"datum.w=='b'"}],"mark":{"type":"text","align":"left","baseline":"middle","fontSize":12.2,"fontWeight":"bold","color":"#6b6b6b"},"encoding":{"text":{"field":"t"}}},
{"data":{"name":"zones"},"mark":{"type":"point","filled":true,"size":4,"fill":"#ffc77d","fillOpacity":1,"stroke":"#c9a52b","strokeWidth":1.3,"opacity":1},"encoding":{"shape":{"field":"id","type":"nominal","legend":null,"scale":{"domain":["a","b","c","e","f","g"],"range":["M-29.5,0A29.5,11.2,0,1,1,29.5,0A29.5,11.2,0,1,1,-29.5,0Z","M-22,0A22,12,0,1,1,22,0A22,12,0,1,1,-22,0Z","M-14.7,0A14.7,13.8,0,1,1,14.7,0A14.7,13.8,0,1,1,-14.7,0Z","M-20,0A20,16.3,0,1,1,20,0A20,16.3,0,1,1,-20,0Z","M-13,0A13,12.5,0,1,1,13,0A13,12.5,0,1,1,-13,0Z","M-9.5,0A9.5,11.7,0,1,1,9.5,0A9.5,11.7,0,1,1,-9.5,0Z"]}}}},
{"data":{"name":"last"},"mark":{"type":"rule","color":"#3f9a6c","strokeWidth":1,"strokeDash":[2,2]},"encoding":{"x2":{"field":"b"}}},
{"data":{"name":"sup"},"mark":{"type":"rule","color":"#ff9800","strokeWidth":2,"strokeDash":[3,2]},"encoding":{"x2":{"field":"b"}}},
{"data":{"name":"candles"},"mark":{"type":"rule","color":"#666666","strokeWidth":1},"encoding":{"y":{"field":"l","type":"quantitative","title":null,"scale":{"nice":false,"zero":false,"domain":[0.2068,0.5365],"range":[360.5,44]},"axis":{"orient":"right","offset":-62,"values":[0.25,0.3,0.35,0.4,0.45,0.5],"format":".5f","domain":false,"grid":false,"labelFontSize":11,"labelColor":"#555555","tickColor":"#555555","tickSize":4,"labelPadding":4,"title":null}},"y2":{"field":"h"}}},
{"data":{"name":"candles"},"mark":{"type":"bar","size":3,"strokeWidth":0.8},"encoding":{"y":{"field":"o","type":"quantitative","title":null,"scale":{"nice":false,"zero":false,"domain":[0.2068,0.5365],"range":[360.5,44]},"axis":{"orient":"right","offset":-62,"values":[0.25,0.3,0.35,0.4,0.45,0.5],"format":".5f","domain":false,"grid":false,"labelFontSize":11,"labelColor":"#555555","tickColor":"#555555","tickSize":4,"labelPadding":4,"title":null}},"y2":{"field":"c"},"fill":{"condition":{"test":"datum.c>=datum.o","value":"#4e9a73"},"value":"#c0392b"},"stroke":{"condition":{"test":"datum.c>=datum.o","value":"#1f5c3c"},"value":"#6b1d12"}}},
{"data":{"name":"ma"},"mark":{"type":"line","color":"#ff2a2a","strokeWidth":1.1},"encoding":{}},
{"data":{"name":"ema"},"mark":{"type":"line","color":"#673ab7","strokeWidth":2.4,"opacity":0.9},"encoding":{}},
{"data":{"name":"res"},"mark":{"type":"rule","color":"#ff9800","strokeWidth":2,"strokeDash":[12,10]},"encoding":{"x2":{"field":"b"}}},
{"data":{"name":"tags"},"mark":{"type":"rule","strokeWidth":17},"encoding":{"x2":{"field":"b"},"color":{"field":"s","type":"nominal","legend":null,"scale":{"domain":["res","last","ma","ema","sup","rsi","text","brand","up"],"range":["#ff9800","#6eaa88","#ff0000","#673ab7","#38761d","#ff6d00","#111111","#4db6e8","#22ab2a"]}}}},
{"data":{"name":"tagText"},"mark":{"type":"text","color":"#ffffff","fontSize":11.5,"fontWeight":"bold","align":"center","baseline":"middle"},"encoding":{"text":{"field":"t"}}},
{"data":{"name":"floor"},"mark":{"type":"rule","color":"#3d7a2a","strokeWidth":2},"encoding":{"x2":{"field":"b"}}},
{"data":{"name":"head"},"mark":{"type":"text","align":"left","baseline":"middle","fontSize":12.2},"encoding":{"text":{"field":"t"},"color":{"field":"s","type":"nominal","legend":null,"scale":{"domain":["res","last","ma","ema","sup","rsi","text","brand","up"],"range":["#ff9800","#6eaa88","#ff0000","#673ab7","#38761d","#ff6d00","#111111","#4db6e8","#22ab2a"]}}}},
{"data":{"name":"headBold"},"mark":{"type":"text","align":"left","baseline":"middle","fontSize":12.2,"fontWeight":"bold","color":"#111111"},"encoding":{"text":{"field":"t"}}},
{"data":{"name":"tri"},"mark":{"type":"point","shape":"triangle-up","filled":true,"size":110,"color":"#0aa00a","opacity":1},"encoding":{}},
{"data":{"name":"logo"},"mark":{"type":"point","filled":true,"size":4,"color":"#5cbde8","opacity":1,"shape":"M-11.5,7L-11.5,3Q-11,-1,-7,-1L-4,-5Q-1,-7,2,-5L4,-2Q8,-4,10,-1Q11.5,2,11.5,7Z"},"encoding":{}}
]},
{"encoding":{"y":{"field":"y","type":"quantitative","title":null,"scale":{"nice":false,"zero":false,"domain":[22.9,85.8],"range":[477,360.5]},"axis":{"orient":"right","offset":-62,"values":[40,60,80],"format":".2f","domain":false,"grid":false,"labelFontSize":11,"labelColor":"#555555","tickColor":"#555555","tickSize":4,"labelPadding":4,"title":null}}},
"layer":[
{"data":{"name":"rgrid"},"mark":{"type":"rule","color":"#e6e6e6","strokeWidth":1},"encoding":{"x2":{"field":"b"}}},
{"data":{"name":"band"},"mark":{"type":"rect","fill":"#9915ff","opacity":0.1},"encoding":{"x2":{"field":"b"},"y2":{"field":"y2"}}},
{"data":{"name":"rlim"},"mark":{"type":"rule","color":"#b3a4ba","strokeWidth":1,"strokeDash":[5,4]},"encoding":{"x2":{"field":"b"}}},
{"data":{"name":"rnote"},"mark":{"type":"text","align":"left","baseline":"middle","fontSize":12.2,"color":"#6b6b6b"},"encoding":{"text":{"field":"t"}}},
{"data":{"name":"candles"},"mark":{"type":"line","color":"#ff6d00","strokeWidth":1,"opacity":0.9},"encoding":{"y":{"field":"r","type":"quantitative","title":null,"scale":{"nice":false,"zero":false,"domain":[22.9,85.8],"range":[477,360.5]},"axis":{"orient":"right","offset":-62,"values":[40,60,80],"format":".2f","domain":false,"grid":false,"labelFontSize":11,"labelColor":"#555555","tickColor":"#555555","tickSize":4,"labelPadding":4,"title":null}}}},
{"data":{"name":"rtag"},"mark":{"type":"rule","strokeWidth":17,"color":"#ff6d00"},"encoding":{"x2":{"field":"b"}}},
{"data":{"name":"rtagText"},"mark":{"type":"text","color":"#ffffff","fontSize":11.5,"fontWeight":"bold","align":"center","baseline":"middle"},"encoding":{"text":{"field":"t"}}}
]}
],
"resolve":{"scale":{"y":"independent"},"axis":{"y":"independent"}}}
